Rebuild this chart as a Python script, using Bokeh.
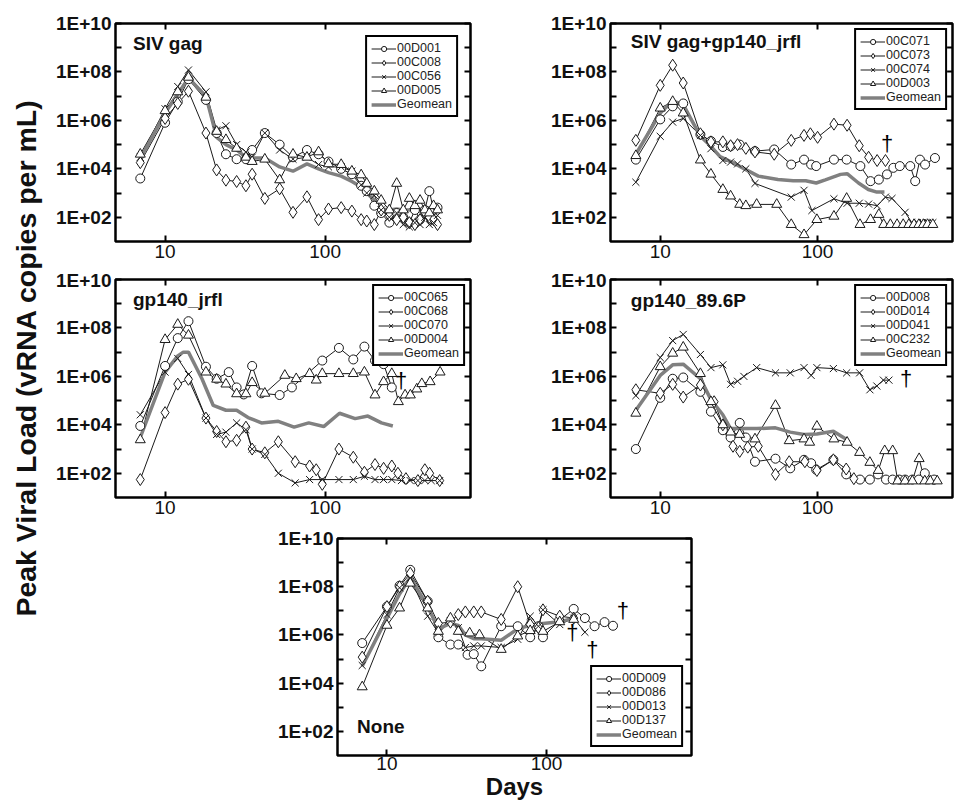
import math
from bokeh.plotting import figure
from bokeh.models import Range1d, FixedTicker, LogAxis, Label
from bokeh.layouts import row, column
from bokeh.embed import file_html
from bokeh.resources import INLINE
from bokeh.core.properties import value

FONT = "Liberation Sans"

# ---------------- ticks ----------------
Y_TICKS = [1e2, 1e3, 1e4, 1e5, 1e6, 1e7, 1e8, 1e9, 1e10]
Y_TICK_LABELS = ["1E+02", "", "1E+04", "", "1E+06", "", "1E+08", "", "1E+10"]
X_TICKS = [10, 100]
X_TICK_LABELS = ["10", "100"]

# ---------------- panel 1: SIV gag ----------------
SIVGAG_DAYS = [7, 10, 12, 14, 18, 21, 24, 28, 32, 35, 42, 52, 63, 77, 91, 105, 126, 147, 168, 182, 203, 224,
               252, 280, 308, 336, 364, 392, 420, 448, 476, 504]
SIVGAG_00D001 = [4e3, 8e5, 6e6, 5e7, 7e6, 3e5, 4e4, 2.5e4, 2.5e4, 6e4, 3e5, 1e5, 3e4, 6e4, 4e4, 2e4, 1e4, 6e3,
                 2e3, 1.2e3, 3e2, 1.5e2, 60, 1.5e2, 1e2, 60, 2e2, 80, 2e2, 1.2e3, 2e2, 2.5e2]
SIVGAG_00C008 = [1.8e4, 1.2e6, 5e6, 1.6e7, 3e5, 9e3, 3.4e3, 3e3, 2e3, 6e3, 6e2, 1.5e3, 1.6e2, 7e2, 80, 2.2e2,
                 2.5e2, 1.8e2, 80, 70, 50, 2e2, 1.2e2, 80, 1e2, 60, 50, 80, 1.5e2, 1e2, 80, 50]
SIVGAG_00C056 = [3e4, 3e6, 2.5e7, 1.2e8, 1.5e7, 4e5, 6e5, 1e5, 5e4, 3e4, 3e5, 6e4, 2.5e4, 3e4, 1.5e4, 1.2e4,
                 1.2e4, 8e3, 2.2e3, 1e3, 8e2, 2e2, 1e2, 1.5e2, 50, 40, 60, 50, 1e2, 50, 60, 1.2e2]
SIVGAG_00D005 = [4e4, 2.5e6, 1.5e7, 6e7, 9e6, 3.5e5, 1.6e5, 7e4, 3e4, 2e4, 2.5e4, 3.5e3, 4e4, 3e4, 5e4, 1.6e4,
                 1.5e4, 8e3, 5.6e3, 2.5e3, 1.2e3, 5e2, 2e2, 2.5e3, 2e2, 6e2, 3e2, 5e2, 2e2, 1.5e2, 3e2, 2e2]
SIVGAG_GEOMEAN = [2.5e4, 2e6, 1.2e7, 5.6e7, 1e7, 2e5, 1e5, 6e4, 3e4, 2.8e4, 2.8e4, 1.2e4, 8e3, 1.6e4, 1e4, 7e3,
                  5e3, 3e3, 1.8e3, 1e3, 5e2, 2.2e2, 2e2, 2.2e2, 2e2, 2e2, 2.2e2, 2e2, 2.2e2, 2.5e2, 2.2e2, 2.5e2]

# ---------------- panel 2: SIV gag+gp140_jrfl ----------------
GAGJR_00C071_DAYS = [7, 10, 12, 14, 18, 21, 25, 28, 32, 40, 53, 68, 82, 91, 98, 127, 153, 187, 217, 245, 276,
                     303, 333, 388, 417, 447, 482, 557]
GAGJR_00C071 = [2.4e4, 1.1e6, 3.8e6, 5e6, 2.6e5, 1.4e5, 8e4, 8.5e4, 1e5, 5.4e4, 6.3e4, 1.5e4, 2.4e4, 1.5e4,
                1.3e4, 2.4e4, 2.4e4, 1.3e4, 3.1e3, 3.6e3, 5.9e3, 1.1e4, 1.3e4, 1.3e4, 3.1e3, 2.4e4, 1.5e4, 2.8e4]
GAGJR_00C073_DAYS = [7, 10, 12, 14, 18, 21, 25, 28, 31, 35, 40, 53, 68, 82, 90, 100, 127, 154, 184, 211, 239, 270]
GAGJR_00C073 = [1.5e5, 2.8e7, 1.9e8, 3.5e7, 2.8e5, 1.3e5, 1.3e5, 9e4, 1e5, 7e4, 5e4, 4e4, 1.5e5, 2.4e5, 2.8e5,
                2e5, 7e5, 6.3e5, 9e4, 3e4, 2.2e4, 2.2e4]
GAGJR_00C074_DAYS = [7, 10, 12, 14, 18, 21, 25, 28, 31, 35, 40, 68, 82, 92, 127, 154, 184, 211, 239, 270, 297,
                     360, 397, 430, 465, 500, 540]
GAGJR_00C074 = [2.8e3, 2.2e5, 8.5e5, 1.2e6, 2.4e5, 6.8e4, 2.2e4, 1.9e4, 1.6e4, 1e4, 2.5e3, 6.8e2, 1.3e3, 1.9e2,
                5.8e2, 3.8e2, 3.8e2, 3.5e2, 3e2, 6.8e2, 6e2, 1.6e2, 60, 60, 60, 60, 60]
GAGJR_00D003_DAYS = [7, 10, 12, 14, 18, 21, 25, 28, 32, 35, 41, 55, 68, 82, 99, 127, 153, 186, 217, 245, 263,
                     290, 320, 350, 380, 410, 440, 470, 500, 540]
GAGJR_00D003 = [3.5e4, 3.2e6, 6e6, 2e6, 2.3e4, 6e3, 1.4e3, 7.5e2, 3.4e2, 3e2, 3.4e2, 3.4e2, 50, 19, 80, 1.1e2,
                6e2, 50, 80, 1.3e2, 50, 50, 50, 50, 50, 50, 50, 50, 50, 50]
GAGJR_GEO_DAYS = [7, 10, 12, 14, 18, 21, 24, 28, 35, 42, 56, 70, 84, 98, 112, 140, 154, 182, 210, 238, 266]
GAGJR_GEOMEAN = [4e4, 2e6, 6.3e6, 4.5e6, 2.2e5, 8.5e4, 3.2e4, 2e4, 9.3e3, 5e3, 3.6e3, 3.2e3, 3.2e3, 2.6e3,
                 3.5e3, 5.9e3, 6.3e3, 2.6e3, 1.4e3, 1.1e3, 1.1e3]
GAGJR_DAGGER_X = [277]
GAGJR_DAGGER_Y = [1.1e5]

# ---------------- panel 3: gp140_jrfl ----------------
JRFL_00C065_DAYS = [7, 10, 12, 14, 18, 21, 25, 28, 31, 35, 40, 52, 62, 96, 122, 150, 176, 205, 232, 261]
JRFL_00C065 = [9e3, 2.7e6, 3.8e7, 1.9e8, 2.5e6, 8e5, 1.5e6, 3.5e5, 1.8e5, 2.7e6, 2e5, 1.7e5, 3.5e5, 4.5e6,
               1.5e7, 5e6, 1.7e7, 4.5e6, 3.2e6, 3.5e5]
JRFL_00C068_DAYS = [7, 10, 12, 14, 18, 21, 24, 28, 32, 35, 42, 51, 65, 80, 88, 96, 122, 150, 176, 205, 232,
                    261, 285, 320, 380, 420, 450, 520]
JRFL_00C068 = [55, 3.2e4, 4.8e5, 7.6e5, 1.9e4, 5.3e3, 2e3, 2.3e3, 8e3, 1e3, 7e2, 2e3, 3e2, 2e2, 1.4e2, 35,
               1e3, 4.6e2, 1.1e2, 2.3e2, 1.6e2, 2e2, 1e2, 60, 50, 1.4e2, 1e2, 50]
JRFL_00C070_DAYS = [7, 10, 12, 14, 18, 21, 24, 28, 32, 35, 42, 51, 65, 80, 96, 122, 150, 176, 205, 232, 261,
                    300, 340, 380, 420, 460, 520]
JRFL_00C070 = [2.6e4, 1.5e6, 5.5e6, 1.2e6, 1.9e4, 4e3, 5e3, 1.2e4, 6.3e3, 1e3, 6e2, 1e2, 40, 55, 55, 55, 55,
               75, 55, 55, 55, 50, 50, 50, 50, 50, 50]
JRFL_00D004_DAYS = [7, 10, 12, 14, 18, 21, 24, 28, 32, 35, 42, 56, 66, 80, 88, 96, 122, 150, 176, 205, 232,
                    261, 287, 316, 341, 374, 402, 453, 523]
JRFL_00D004 = [2.4e3, 3.3e7, 1.4e8, 5e7, 1.5e6, 7.6e5, 4.8e5, 1.9e5, 1.9e5, 5.5e5, 2e5, 1.1e6, 8e5, 1.3e6,
               7e5, 1.3e6, 1.3e6, 1.3e6, 1.5e6, 1.7e5, 6e5, 1.3e6, 9e4, 1.7e5, 1.7e5, 3e5, 5e5, 6e5, 1.5e6]
JRFL_GEO_DAYS = [7, 10, 12, 13, 14, 17, 20, 24, 28, 33, 40, 51, 64, 79, 98, 123, 154, 185, 225, 265]
JRFL_GEOMEAN = [3e3, 1.5e6, 7e6, 1e7, 1e7, 8e5, 6.3e4, 4e4, 4e4, 2e4, 1.2e4, 1.4e4, 8e3, 1.2e4, 8.5e3, 3e4,
                1.8e4, 2.3e4, 1.2e4, 9e3]
JRFL_DAGGER_X = [299]
JRFL_DAGGER_Y = [7e5]

# ---------------- panel 4: gp140_89.6P ----------------
P896_00D008_DAYS = [7, 10, 12, 14, 18, 21, 25, 28, 32, 35, 40, 54, 67, 82, 91, 98, 126, 152, 186, 215, 242,
                    272, 300, 330, 360, 400, 440, 480, 550]
P896_00D008 = [1e3, 1.3e5, 8e5, 9e5, 2.3e5, 3.5e4, 6e3, 3e3, 1.2e4, 3e3, 3e2, 4e2, 1.6e2, 3.6e2, 2.6e2, 1.4e2,
               3.6e2, 90, 55, 55, 90, 55, 55, 55, 55, 55, 55, 1e2, 55]
P896_00D014_DAYS = [7, 10, 12, 14, 18, 22, 25, 29, 32, 36, 42, 54, 66, 83, 99, 126, 152, 170]
P896_00D014 = [2.8e5, 2e5, 4.7e5, 1.4e5, 4.4e5, 9e4, 1e4, 1.3e3, 8e2, 1.2e3, 1.3e3, 90, 3e2, 3e2, 1.3e2,
               3.6e2, 1.5e2, 60]
P896_00D041_DAYS = [7, 10, 12, 14, 18, 21, 25, 28, 31, 34, 41, 54, 67, 82, 91, 99, 126, 153, 185, 215, 238,
                    262, 284]
P896_00D041 = [1.6e5, 6e6, 3e7, 5.4e7, 8e6, 2.3e6, 3e6, 4.7e5, 6.3e5, 1e6, 2.3e6, 1.4e6, 1.4e6, 2.3e6, 1.1e6,
               2.3e6, 2.1e6, 1.4e6, 1.4e6, 2.8e5, 4e5, 7e5, 7e5]
P896_00C232_DAYS = [7, 10, 12, 14, 18, 21, 25, 28, 32, 40, 54, 66, 82, 89, 99, 127, 154, 185, 215, 243, 267,
                    300, 323, 360, 400, 442, 480, 520, 576]
P896_00C232 = [3e4, 2.5e6, 9e6, 1.6e7, 1.3e6, 9e4, 1e4, 5e3, 4e3, 2.6e3, 6.3e4, 2.2e3, 2.6e3, 1.9e3, 8.7e3,
               2.6e3, 1.9e3, 7.2e2, 2.8e2, 1.3e2, 8.5e2, 8.5e2, 48, 48, 48, 4e2, 48, 48, 48]
P896_GEO_DAYS = [7, 10, 12, 14, 18, 21, 25, 28, 35, 41, 54, 67, 82, 99, 126, 154]
P896_GEOMEAN = [4e4, 1.1e6, 3e6, 3.2e6, 8e5, 1.1e5, 2.6e4, 7e3, 7e3, 7e3, 7.5e3, 5e3, 4e3, 4.2e3, 5.4e3, 2.4e3]
P896_DAGGER_X = [365]
P896_DAGGER_Y = [8e5]

# ---------------- panel 5: None ----------------
NONE_00D009_DAYS = [7, 10, 12, 14, 18, 21, 25, 28, 32, 35, 39, 52, 66, 79, 89, 95, 120, 148, 174, 200, 231, 261]
NONE_00D009 = [4.6e5, 1.5e7, 1.1e8, 5e8, 2.5e7, 8e5, 4e5, 4e5, 1.5e5, 1.6e5, 5e4, 2.3e6, 2.3e6, 8e5, 2.3e6,
               8e5, 4e6, 1.2e7, 5e6, 2.3e6, 3.4e6, 2.4e6]
NONE_00D086_DAYS = [7, 10, 12, 14, 18, 21, 25, 28, 31, 35, 39, 52, 66, 79, 89, 95, 121, 148]
NONE_00D086 = [1.2e5, 1.5e7, 1e8, 3.6e8, 2.5e7, 3e6, 3.4e6, 7e6, 9e6, 9e6, 9e6, 4.4e6, 1e8, 2.7e6, 2e6, 1.1e7,
               6e6, 5e6]
NONE_00D013_DAYS = [7, 10, 12, 14, 18, 21, 25, 28, 31, 35, 39, 52, 66, 79, 89, 95, 121, 148, 174]
NONE_00D013 = [5.4e4, 7e6, 9e7, 2.3e8, 6e6, 1.2e6, 3.8e6, 2e6, 3e5, 3.5e5, 3.5e5, 3e5, 6.6e5, 6e6, 2.3e6, 1.1e7,
               2.7e6, 5e6, 1.3e6]
NONE_00D137_DAYS = [7, 10, 12, 14, 18, 21, 25, 28, 33, 38, 52, 66, 79, 95, 121, 148]
NONE_00D137 = [7e3, 2.5e6, 1.3e7, 1.4e8, 1.3e7, 1.4e6, 5e6, 1.4e6, 1.2e6, 1e6, 2.5e5, 9e5, 1.5e6, 1.4e6, 3.5e6,
               4.4e6]
NONE_GEO_DAYS = [7, 10, 12, 14, 18, 21, 25, 28, 31, 35, 39, 52, 66, 79, 95, 121, 148]
NONE_GEOMEAN = [5e4, 5e6, 5e7, 2.5e8, 1.5e7, 1.8e6, 3e6, 2.5e6, 1e6, 7e5, 7e5, 6e5, 1.8e6, 2.5e6, 3e6, 3.5e6,
                5e6]
NONE_DAGGER_X = [301, 145, 194]
NONE_DAGGER_Y = [1e7, 1.3e6, 2.6e5]

MARKER_SIZES = {"circle": 9, "diamond": 12, "x": 10, "triangle": 10}
LINE_COLOR = "#1a1a1a"
GEO_COLOR = "#808080"


def style_axis(ax, ticks, labels, bold, show_labels=True):
    ax.ticker = FixedTicker(ticks=ticks)
    if show_labels:
        ax.major_label_overrides = {t: l for t, l in zip(ticks, labels)}
    else:
        ax.major_label_overrides = {t: "" for t in ticks}
    ax.axis_line_color = None
    ax.major_tick_in = 6
    ax.major_tick_out = 0
    ax.major_tick_line_width = 2
    ax.major_tick_line_color = "black"
    ax.minor_tick_line_color = None
    ax.major_label_text_font = FONT
    ax.major_label_text_font_size = "19px" if show_labels else "0px"
    ax.major_label_text_font_style = "bold" if bold else "normal"
    ax.major_label_text_color = "#111111"
    ax.major_label_standoff = 4 if show_labels else 0


def make_panel(title, title_xy, series, geo_days, geo_vals, dagger_x, dagger_y, x_range,
               width, height, borders, legend_loc, legend_margin):
    bl, br, bt, bb = borders
    p = figure(width=width, height=height, x_axis_type="log", y_axis_type="log",
               x_range=Range1d(*x_range), y_range=Range1d(10, 1e10),
               output_backend="svg", toolbar_location=None,
               min_border_left=bl, min_border_right=br, min_border_top=bt, min_border_bottom=bb)
    p.grid.visible = False
    p.outline_line_color = "black"
    p.outline_line_width = 2.5
    p.outline_line_alpha = 1.0
    p.background_fill_color = "white"
    p.border_fill_color = "white"

    style_axis(p.below[0], X_TICKS, X_TICK_LABELS, bold=False)
    style_axis(p.left[0], Y_TICKS, Y_TICK_LABELS, bold=True)
    p.below[0].major_label_standoff = 3
    top = LogAxis()
    right = LogAxis()
    style_axis(top, X_TICKS, X_TICK_LABELS, bold=False, show_labels=False)
    style_axis(right, Y_TICKS, Y_TICK_LABELS, bold=False, show_labels=False)
    p.add_layout(top, "above")
    p.add_layout(right, "right")

    for name, d, v, m in series:
        p.line(d, v, line_color=LINE_COLOR, line_width=1, legend_label=name)
    p.line(geo_days, geo_vals, line_color=GEO_COLOR, line_width=3.5, legend_label="Geomean")
    for name, d, v, m in series:
        p.scatter(d, v, marker=m, size=MARKER_SIZES[m], fill_color="white", line_color=LINE_COLOR,
                  line_width=1, legend_label=name)

    if dagger_x:
        p.text(dagger_x, dagger_y, text=["\u2020"] * len(dagger_x), text_font=value(FONT),
               text_font_size="22px", text_align="center", text_baseline="middle", text_color="#000000")

    p.add_layout(Label(x=title_xy[0], y=title_xy[1], text=title, text_font=FONT, text_font_style="bold",
                       text_font_size="19px", text_baseline="middle", text_color="#111111"))

    lg = p.legend[0]
    lg.location = legend_loc
    lg.margin = legend_margin
    lg.padding = 4
    lg.spacing = 0
    lg.label_text_font = FONT
    lg.label_text_font_size = "12.5px"
    lg.label_text_color = "#222222"
    lg.label_height = 13
    lg.glyph_height = 13
    lg.glyph_width = 25
    lg.label_standoff = 1
    lg.border_line_color = "black"
    lg.border_line_width = 2.5
    lg.border_line_alpha = 1.0
    lg.background_fill_alpha = 1.0
    return p


XR_WIDE = (4.9, 810)
XR_NARROW = (4.83, 720)

p1 = make_panel("SIV gag", (6.3, 1.5e9),
                [("00D001", SIVGAG_DAYS, SIVGAG_00D001, "circle"),
                 ("00C008", SIVGAG_DAYS, SIVGAG_00C008, "diamond"),
                 ("00C056", SIVGAG_DAYS, SIVGAG_00C056, "x"),
                 ("00D005", SIVGAG_DAYS, SIVGAG_00D005, "triangle")],
                SIVGAG_DAYS, SIVGAG_GEOMEAN, [], [], XR_WIDE,
                430, 269, (67, 8, 22, 28), "top_right", 12)

p2 = make_panel("SIV gag+gp140_jrfl", (6.5, 1.8e9),
                [("00C071", GAGJR_00C071_DAYS, GAGJR_00C071, "circle"),
                 ("00C073", GAGJR_00C073_DAYS, GAGJR_00C073, "diamond"),
                 ("00C074", GAGJR_00C074_DAYS, GAGJR_00C074, "x"),
                 ("00D003", GAGJR_00D003_DAYS, GAGJR_00D003, "triangle")],
                GAGJR_GEO_DAYS, GAGJR_GEOMEAN, GAGJR_DAGGER_X, GAGJR_DAGGER_Y, XR_NARROW,
                476, 269, (132, 2, 23, 28), "top_right", 5)

p3 = make_panel("gp140_jrfl", (6.3, 1.5e9),
                [("00C065", JRFL_00C065_DAYS, JRFL_00C065, "circle"),
                 ("00C068", JRFL_00C068_DAYS, JRFL_00C068, "diamond"),
                 ("00C070", JRFL_00C070_DAYS, JRFL_00C070, "x"),
                 ("00D004", JRFL_00D004_DAYS, JRFL_00D004, "triangle")],
                JRFL_GEO_DAYS, JRFL_GEOMEAN, JRFL_DAGGER_X, JRFL_DAGGER_Y, XR_WIDE,
                430, 258, (67, 8, 8, 30), "top_right", 5)

p4 = make_panel("gp140_89.6P", (6.5, 1.35e9),
                [("00D008", P896_00D008_DAYS, P896_00D008, "circle"),
                 ("00D014", P896_00D014_DAYS, P896_00D014, "diamond"),
                 ("00D041", P896_00D041_DAYS, P896_00D041, "x"),
                 ("00C232", P896_00C232_DAYS, P896_00C232, "triangle")],
                P896_GEO_DAYS, P896_GEOMEAN, P896_DAGGER_X, P896_DAGGER_Y, XR_NARROW,
                476, 258, (132, 2, 10, 30), "top_right", 5)

p5 = make_panel("None", (6.5, 1.6e2),
                [("00D009", NONE_00D009_DAYS, NONE_00D009, "circle"),
                 ("00D086", NONE_00D086_DAYS, NONE_00D086, "diamond"),
                 ("00D013", NONE_00D013_DAYS, NONE_00D013, "x"),
                 ("00D137", NONE_00D137_DAYS, NONE_00D137, "triangle")],
                NONE_GEO_DAYS, NONE_GEOMEAN, NONE_DAGGER_X, NONE_DAGGER_Y, XR_WIDE,
                653, 278, (289, 10, 11, 50), "bottom_right", 8)
xb = p5.below[0]
xb.major_label_standoff = 1
xb.axis_label = "Days"
xb.axis_label_text_font = FONT
xb.axis_label_text_font_style = "bold"
xb.axis_label_text_font_size = "24px"
xb.axis_label_text_color = "#111111"
xb.axis_label_standoff = 0

# y-axis title column
lab = figure(width=48, height=805, x_range=Range1d(0, 1), y_range=Range1d(0, 1),
             x_axis_type=None, y_axis_type=None, output_backend="svg", toolbar_location=None,
             min_border=0)
lab.grid.visible = False
lab.outline_line_color = None
lab.add_layout(Label(x=0.53, y=0.556, text="Peak Viral Load (vRNA copies per mL)", angle=math.pi / 2,
                     text_font=FONT, text_font_style="bold", text_font_size="28.5px",
                     text_align="center", text_baseline="middle", text_color="#111111"))

layout = row(lab, column(row(p1, p2), row(p3, p4), p5))

open("out.html", "w").write(file_html(layout, INLINE))
